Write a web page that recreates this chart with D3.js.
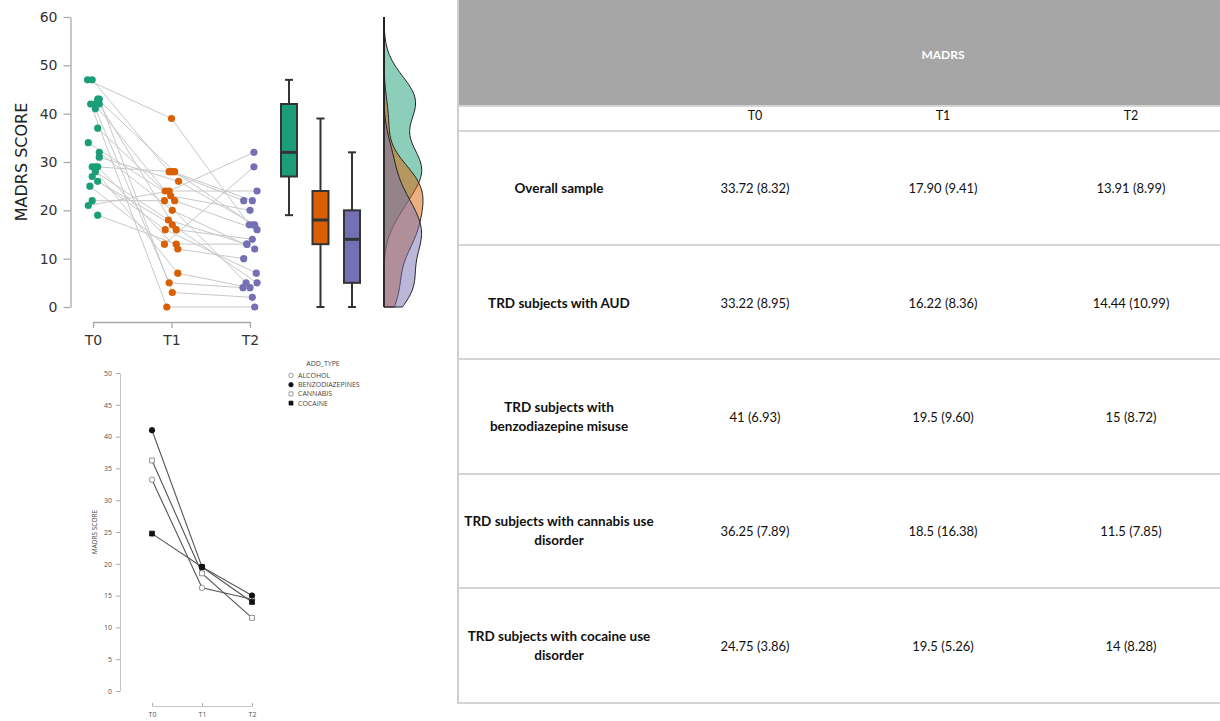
<!DOCTYPE html>
<html lang="en">
<head>
<meta charset="UTF-8">
<title>MADRS scores</title>
<script src="https://d3js.org/d3.v7.min.js"></script>
<style>
  body { margin: 0; background: #fff; }
  svg { display: block; }
</style>
</head>
<body>
<div id="chart"></div>
<script>
// ---- data ----
var times = ["T0", "T1", "T2"];

// individual subjects (same index = same subject)
var madrsT0 = [47, 47, 42, 43, 42, 42, 41, 43, 37, 34, 32, 31, 29, 29, 28, 27, 26, 25, 22, 21, 19, 29];
var madrsT1 = [39, 28, 24, 28, 0, 16, 5, 3, 22, 23, 20, 26, 28, 12, 18, 16, 17, 13, 22, 24, 13, 7];
var madrsT2 = [17, 22, 24, 17, 0, 14, 4, 2, 16, 20, 12, 17, 22, 10, 13, 7, 5, 29, 5, 32, 13, 4];

// horizontal jitter of each dot, in time units
var jitterT0 = [-0.07, -0.01, 0.02, 0.06, -0.03, 0.08, 0.03, 0.08, 0.06, -0.06, 0.08, 0.08, 0.03, 0.06, 0.03, -0.01, 0.06, -0.04, -0.01, -0.06, 0.06, -0.01];
var jitterT1 = [0, -0.03, -0.08, 0.04, -0.06, 0.06, -0.03, 0.01, 0.04, -0.01, 0.01, 0.09, 0.01, 0.08, -0.04, -0.08, 0.01, -0.09, -0.09, -0.03, 0.06, 0.08];
var jitterT2 = [-0.01, -0.08, 0.09, 0.04, 0.06, 0.03, -0.09, 0.03, 0.09, 0, 0.06, 0.06, 0.03, -0.08, -0.04, 0.08, 0.09, 0.05, -0.05, 0.05, -0.04, 0];

// box plot stats
var boxLow = [19, 0, 0];
var boxQ1 = [27, 13, 5];
var boxMedian = [32, 18, 14];
var boxQ3 = [42, 24, 20];
var boxHigh = [47, 39, 32];

var groupColors = ["#1b9e77", "#d95f02", "#7570b3"];

// mean MADRS by addiction type
var addTypes = ["ALCOHOL", "BENZODIAZEPINES", "CANNABIS", "COCAINE"];
var meanAlcohol = [33.22, 16.22, 14.44];
var meanBenzo = [41, 19.5, 15];
var meanCannabis = [36.25, 18.5, 11.5];
var meanCocaine = [24.75, 19.5, 14];
var bottomTicks = [0, 5, 10, 15, 20, 25, 30, 35, 40, 45, 50];

// table
var rowLabels = [
  ["Overall sample"],
  ["TRD subjects with AUD"],
  ["TRD subjects with", "benzodiazepine misuse"],
  ["TRD subjects with cannabis use", "disorder"],
  ["TRD subjects with cocaine use", "disorder"]
];
var tableT0 = ["33.72 (8.32)", "33.22 (8.95)", "41 (6.93)", "36.25 (7.89)", "24.75 (3.86)"];
var tableT1 = ["17.90 (9.41)", "16.22 (8.36)", "19.5 (9.60)", "18.5 (16.38)", "19.5 (5.26)"];
var tableT2 = ["13.91 (8.99)", "14.44 (10.99)", "15 (8.72)", "11.5 (7.85)", "14 (8.28)"];

// ---- svg ----
var W = 1220, H = 721;
var svg = d3.select("#chart").append("svg")
    .attr("width", W)
    .attr("height", H);

// ================= top raincloud plot =================
var topG = svg.append("g");
var yTop = d3.scaleLinear().domain([0, 60]).range([307, 17]);
var xTop = d3.scaleLinear().domain([0, 2]).range([93, 250]);
var xBox = d3.scaleLinear().domain([0, 2]).range([289, 352]);

var yAxisTop = topG.append("g")
    .attr("transform", "translate(70.5,0)")
    .call(d3.axisLeft(yTop).tickValues([0, 10, 20, 30, 40, 50, 60]).tickSize(7).tickSizeOuter(0).tickPadding(6));
var xAxisTop = topG.append("g")
    .attr("transform", "translate(0,322)")
    .call(d3.axisBottom(xTop).tickValues([0, 1, 2]).tickFormat(function(i) { return times[i]; })
      .tickSize(6).tickSizeOuter(0).tickPadding(7));
[yAxisTop, xAxisTop].forEach(function(ax) {
  ax.select(".domain").attr("stroke", "#aaa").attr("stroke-width", 1.3);
  ax.selectAll(".tick line").attr("stroke", "#aaa").attr("stroke-width", 1.3);
  ax.selectAll("text").attr("fill", "#333").style("font-family", "DejaVu Sans").style("font-size", "14px");
});

topG.append("text")
    .attr("transform", "translate(27,162) rotate(-90)")
    .attr("text-anchor", "middle")
    .style("font-family", "DejaVu Sans")
    .style("font-size", "16px")
    .attr("fill", "#222")
    .text("MADRS SCORE");

var series = [madrsT0, madrsT1, madrsT2];
var jitters = [jitterT0, jitterT1, jitterT2];

// connecting lines
var subjects = d3.range(madrsT0.length);
var line = d3.line().x(function(d) { return d[0]; }).y(function(d) { return d[1]; });
topG.append("g").selectAll("path")
    .data(subjects)
    .enter().append("path")
    .attr("d", function(i) {
      return line([0, 1, 2].map(function(t) {
        return [xTop(t + jitters[t][i]), yTop(series[t][i])];
      }));
    })
    .attr("fill", "none")
    .attr("stroke", "#c8c8c8")
    .attr("stroke-width", 1);

// dots
[0, 1, 2].forEach(function(t) {
  topG.append("g").selectAll("circle")
      .data(series[t])
      .enter().append("circle")
      .attr("cx", function(d, i) { return xTop(t + jitters[t][i]); })
      .attr("cy", function(d) { return yTop(d); })
      .attr("r", 3.6)
      .attr("fill", groupColors[t]);
});

// box plots
var boxW = 16, capW = 8;
[0, 1, 2].forEach(function(t) {
  var g = topG.append("g").attr("stroke", "#333").attr("stroke-width", 2);
  var cx = xBox(t);
  g.append("line").attr("x1", cx).attr("x2", cx).attr("y1", yTop(boxHigh[t])).attr("y2", yTop(boxLow[t]));
  g.append("line").attr("x1", cx - capW / 2).attr("x2", cx + capW / 2).attr("y1", yTop(boxHigh[t])).attr("y2", yTop(boxHigh[t]));
  g.append("line").attr("x1", cx - capW / 2).attr("x2", cx + capW / 2).attr("y1", yTop(boxLow[t])).attr("y2", yTop(boxLow[t]));
  g.append("rect")
      .attr("x", cx - boxW / 2).attr("width", boxW)
      .attr("y", yTop(boxQ3[t])).attr("height", yTop(boxQ1[t]) - yTop(boxQ3[t]))
      .attr("fill", groupColors[t]);
  g.append("line").attr("x1", cx - boxW / 2).attr("x2", cx + boxW / 2)
      .attr("y1", yTop(boxMedian[t])).attr("y2", yTop(boxMedian[t])).attr("stroke-width", 3);
});

// half-violin densities (gaussian KDE of the dots)
var grid = d3.range(0, 60.01, 0.5);
var bw = 4.2;
function kde(values) {
  return grid.map(function(y) {
    return [y, d3.mean(values, function(v) {
      var u = (y - v) / bw;
      return Math.exp(-0.5 * u * u) / Math.sqrt(2 * Math.PI);
    }) / bw];
  });
}
var dens = series.map(kde);
var maxD = d3.max(dens, function(d) { return d3.max(d, function(p) { return p[1]; }); });
var wScale = d3.scaleLinear().domain([0, maxD]).range([0, 39]);
var base = 384;
var area = d3.area()
    .curve(d3.curveBasis)
    .y(function(p) { return yTop(p[0]); })
    .x0(base)
    .x1(function(p) { return base + wScale(p[1]); });
dens.forEach(function(d, t) {
  topG.append("path")
      .datum(d)
      .attr("d", area)
      .attr("fill", groupColors[t])
      .attr("fill-opacity", 0.5)
      .attr("stroke", "#222")
      .attr("stroke-width", 1);
});
topG.append("line")
    .attr("x1", base).attr("x2", base)
    .attr("y1", yTop(60)).attr("y2", yTop(0))
    .attr("stroke", "#222").attr("stroke-width", 1.2);

// ================= bottom line plot =================
var botG = svg.append("g");
var yBot = d3.scaleLinear().domain([0, 50]).range([691, 373]);
var xBot = d3.scaleLinear().domain([0, 2]).range([152, 252]);

var yAxisBot = botG.append("g")
    .attr("transform", "translate(120,0)")
    .call(d3.axisLeft(yBot).tickValues(bottomTicks).tickSize(4).tickSizeOuter(0).tickPadding(4));
var xAxisBot = botG.append("g")
    .attr("transform", "translate(0,706)")
    .call(d3.axisBottom(xBot).tickValues([0, 1, 2]).tickFormat(function(i) { return times[i]; })
      .tickSize(-3).tickSizeOuter(0).tickPadding(6));
[yAxisBot, xAxisBot].forEach(function(ax) {
  ax.select(".domain").attr("stroke", "#c4c4c4");
  ax.selectAll(".tick line").attr("stroke", "#aaa");
  ax.selectAll("text").attr("fill", "#555").style("font-family", "Open Sans").style("font-size", "7px");
});

botG.append("text")
    .attr("transform", "translate(97,532) rotate(-90)")
    .attr("text-anchor", "middle")
    .style("font-family", "Open Sans")
    .style("font-size", "6.5px")
    .attr("fill", "#444")
    .text("MADRS SCORE");

var typeMeans = [meanAlcohol, meanBenzo, meanCannabis, meanCocaine];
var typeShape = [d3.symbolCircle, d3.symbolCircle, d3.symbolSquare, d3.symbolSquare];
var typeFilled = [false, true, false, true];

typeMeans.forEach(function(m, k) {
  botG.append("path")
      .attr("d", line(m.map(function(v, t) { return [xBot(t), yBot(v)]; })))
      .attr("fill", "none")
      .attr("stroke", "#555")
      .attr("stroke-width", 1.1);
});
typeMeans.forEach(function(m, k) {
  botG.append("g").selectAll("path")
      .data(m)
      .enter().append("path")
      .attr("transform", function(v, t) { return "translate(" + xBot(t) + "," + yBot(v) + ")"; })
      .attr("d", d3.symbol().type(typeShape[k]).size(24))
      .attr("fill", typeFilled[k] ? "#111" : "#fff")
      .attr("stroke", typeFilled[k] ? "#111" : "#777")
      .attr("stroke-width", 0.8);
});

// legend
var leg = botG.append("g").style("font-family", "Open Sans").style("font-size", "7px");
leg.append("text").attr("x", 323).attr("y", 366).attr("text-anchor", "middle").attr("fill", "#444").text("ADD_TYPE");
addTypes.forEach(function(name, k) {
  var yy = 375.5 + k * 9.2;
  leg.append("path")
      .attr("transform", "translate(291," + yy + ")")
      .attr("d", d3.symbol().type(typeShape[k]).size(16))
      .attr("fill", typeFilled[k] ? "#111" : "#fff")
      .attr("stroke", typeFilled[k] ? "#111" : "#777")
      .attr("stroke-width", 0.7);
  leg.append("text").attr("x", 298).attr("y", yy + 2.4).attr("fill", "#444").text(name);
});

// ================= table =================
var tab = svg.append("g");
var colX = [559, 755, 943, 1131];
tab.append("rect").attr("x", 458).attr("y", 0).attr("width", W - 458).attr("height", 106).attr("fill", "#a6a6a6");
tab.append("text").attr("x", 943).attr("y", 59).attr("text-anchor", "middle")
    .style("font-family", "Lato").style("font-size", "12px").style("font-weight", "bold")
    .attr("fill", "#fff").text("MADRS");
tab.append("line").attr("x1", 458).attr("x2", 458).attr("y1", 0).attr("y2", 704)
    .attr("stroke", "#cfcfcf").attr("stroke-width", 2);

var rowLines = [106, 131, 245, 359, 474, 588, 703];
tab.selectAll("line.row")
    .data(rowLines)
    .enter().append("line")
    .attr("class", "row")
    .attr("x1", 458).attr("x2", W)
    .attr("y1", function(d) { return d; }).attr("y2", function(d) { return d; })
    .attr("stroke", "#d4d4d4").attr("stroke-width", 2);

times.forEach(function(t, i) {
  tab.append("text").attr("x", colX[i + 1]).attr("y", 120).attr("text-anchor", "middle")
      .style("font-family", "Lato").style("font-size", "12.5px").attr("fill", "#111").text(t);
});

var rowCenters = [188, 303, 417, 531, 646];
var cols = [tableT0, tableT1, tableT2];
rowLabels.forEach(function(lines, r) {
  var cy = rowCenters[r];
  lines.forEach(function(s, j) {
    var yy = cy + (j - (lines.length - 1) / 2) * 19.5 + 4.5;
    tab.append("text").attr("x", colX[0]).attr("y", yy).attr("text-anchor", "middle")
        .style("font-family", "Lato").style("font-size", "13.5px").style("font-weight", "bold")
        .attr("fill", "#111").text(s);
  });
  cols.forEach(function(col, c) {
    tab.append("text").attr("x", colX[c + 1]).attr("y", cy + 4.5).attr("text-anchor", "middle")
        .style("font-family", "Lato").style("font-size", "13px")
        .attr("fill", "#111").text(col[r]);
  });
});
</script>
</body>
</html>
